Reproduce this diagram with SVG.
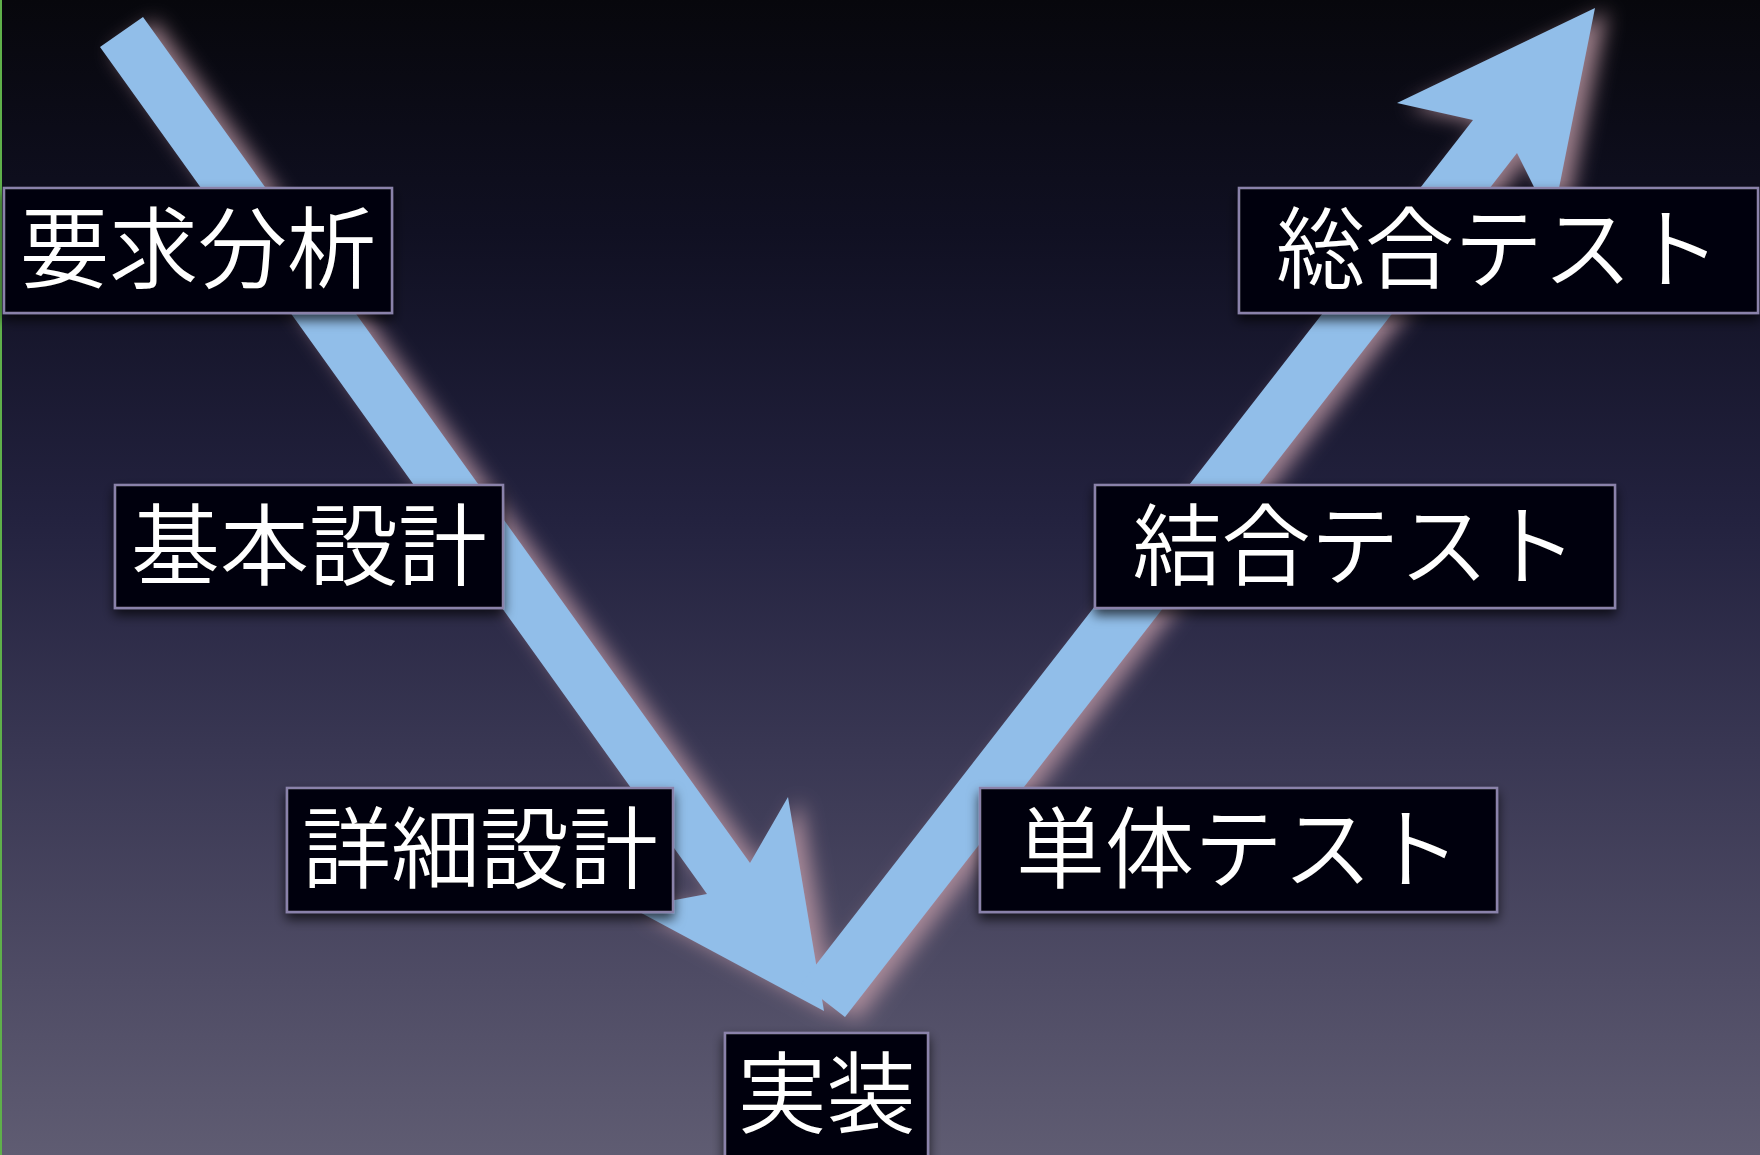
<svg xmlns="http://www.w3.org/2000/svg" width="1760" height="1155" viewBox="0 0 1760 1155">
  <defs>
    <linearGradient id="bg" x1="0" y1="0" x2="0" y2="1">
      <stop offset="0" stop-color="#07070c"/>
      <stop offset="0.2" stop-color="#101022"/>
      <stop offset="0.45" stop-color="#23223f"/>
      <stop offset="0.65" stop-color="#393753"/>
      <stop offset="0.85" stop-color="#4f4c65"/>
      <stop offset="1" stop-color="#5f5c72"/>
    </linearGradient>
    <filter id="glow" x="-20%" y="-20%" width="140%" height="140%">
      <feGaussianBlur in="SourceAlpha" stdDeviation="10" result="b"/>
      <feOffset in="b" dx="12" dy="4" result="o"/>
      <feFlood flood-color="#c09aa6" flood-opacity="0.8"/>
      <feComposite in2="o" operator="in" result="s"/>
      <feMerge><feMergeNode in="s"/><feMergeNode in="SourceGraphic"/></feMerge>
    </filter>
    <filter id="shadow" x="-15%" y="-30%" width="130%" height="170%">
      <feGaussianBlur in="SourceAlpha" stdDeviation="6" result="b"/>
      <feOffset in="b" dx="0" dy="6" result="o"/>
      <feFlood flood-color="#000" flood-opacity="0.7"/>
      <feComposite in2="o" operator="in" result="s"/>
      <feMerge><feMergeNode in="s"/><feMergeNode in="SourceGraphic"/></feMerge>
    </filter>
  </defs>
  <style>
    .box { fill: #060609; stroke: #8a82aa; stroke-width: 2.5; }
    .lbl { fill: #ffffff; font-family: 'Noto Sans CJK JP', 'Noto Sans CJK SC', sans-serif; font-size: 89px; font-weight: 350; text-anchor: middle; }
    .arrow { fill: #91bee9; }
  </style>

  <rect x="0" y="0" width="1760" height="1155" fill="url(#bg)"/>
  <rect x="0" y="0" width="2" height="1155" fill="#5fb04a"/>

  <g id="connectors" filter="url(#glow)">
    <polygon class="arrow" points="100,47 143,17 750,863 788,797 824,1011 632,908 707,894"/>
    <polygon class="arrow" points="801.6,983.2 1473,120 1397,103 1595,8 1552,223 1517,153 845,1017"/>
  </g>

  <g id="node-youkyuu" filter="url(#shadow)">
    <rect class="box" x="4" y="188" width="388" height="125"/>
    <text class="lbl" x="198" y="281">要求分析</text>
  </g>
  <g id="node-kihon" filter="url(#shadow)">
    <rect class="box" x="115" y="485" width="388" height="123"/>
    <text class="lbl" x="309" y="578">基本設計</text>
  </g>
  <g id="node-shousai" filter="url(#shadow)">
    <rect class="box" x="287" y="788" width="386" height="124"/>
    <text class="lbl" x="480" y="881">詳細設計</text>
  </g>
  <g id="node-jissou" filter="url(#shadow)">
    <rect class="box" x="725" y="1033" width="203" height="140"/>
    <text class="lbl" x="826.5" y="1126">実装</text>
  </g>
  <g id="node-tantai" filter="url(#shadow)">
    <rect class="box" x="980" y="788" width="517" height="124"/>
    <text class="lbl" x="1238.5" y="881">単体テスト</text>
  </g>
  <g id="node-ketsugou" filter="url(#shadow)">
    <rect class="box" x="1095" y="485" width="520" height="123"/>
    <text class="lbl" x="1355" y="578">結合テスト</text>
  </g>
  <g id="node-sougou" filter="url(#shadow)">
    <rect class="box" x="1239" y="188" width="519" height="125"/>
    <text class="lbl" x="1498.5" y="281">総合テスト</text>
  </g>
</svg>
